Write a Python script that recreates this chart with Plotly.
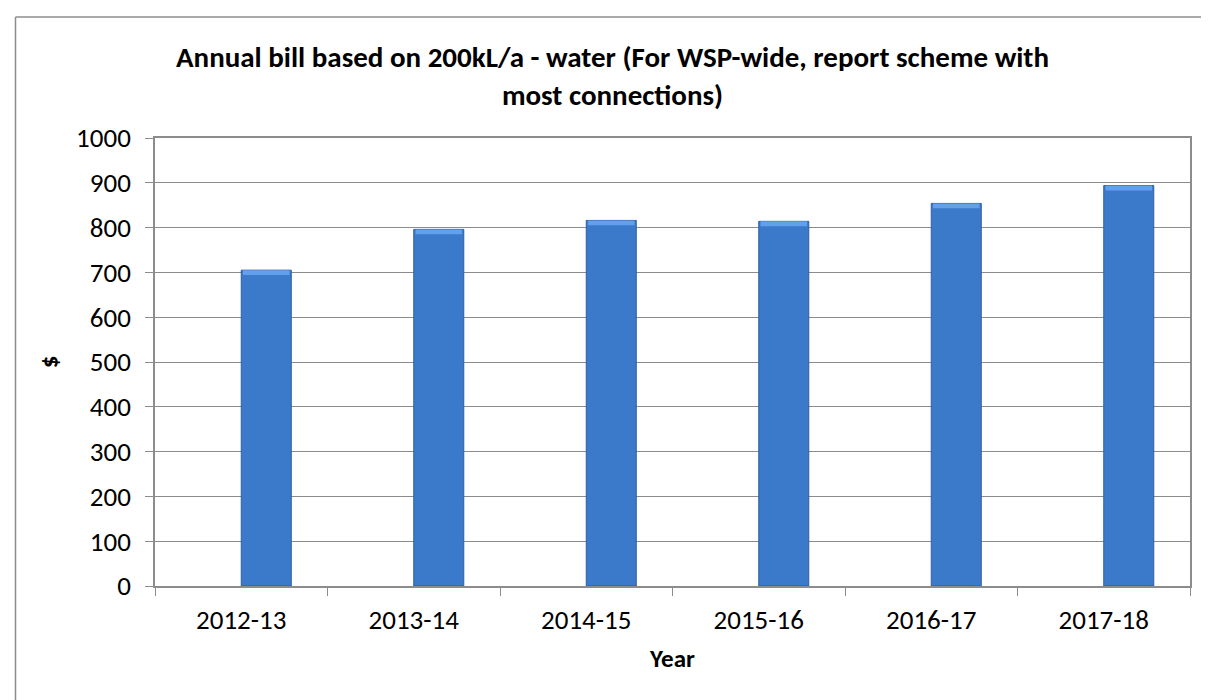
import plotly.graph_objects as go

# values
years = ["2012-13", "2013-14", "2014-15", "2015-16", "2016-17", "2017-18"]
bill = [705, 796, 816, 814, 854, 894]
y_ticks = [0, 100, 200, 300, 400, 500, 600, 700, 800, 900, 1000]

W, H = 1209, 700
ml, mr, mt, mb = 147, 27, 130, 122
pw, ph = W - ml - mr, H - mt - mb

font = "Carlito, Calibri, Lato, sans-serif"
grey = "#8c8c8c"

# light bevel strip on top of each bar (a few px high)
cap = 11
cap_base = [v - cap for v in bill]

fig = go.Figure()
fig.add_trace(go.Bar(
    x=years,
    y=bill,
    width=0.29,
    offset=0,
    marker=dict(color="#3b7acb", line=dict(color="#2d5fa0", width=1)),
    hovertemplate="%{x}: $%{y}<extra></extra>",
))
fig.add_trace(go.Bar(
    x=years,
    y=[cap] * len(bill),
    base=cap_base,
    width=0.27,
    offset=0.01,
    marker=dict(color="#62a0ec", line=dict(width=0)),
    hoverinfo="skip",
))

# outer chart frame (only left and top edges show in the picture)
def px_x(v):
    return (v - ml) / pw

def px_y(v):
    return (H - mb - v) / ph

fig.add_shape(type="line", xref="paper", yref="paper",
              x0=px_x(7.5), x1=px_x(W + 5), y0=px_y(9), y1=px_y(9),
              line=dict(color=grey, width=1.5))
fig.add_shape(type="line", xref="paper", yref="paper",
              x0=px_x(7.5), x1=px_x(7.5), y0=px_y(9), y1=px_y(H + 5),
              line=dict(color=grey, width=1.5))

fig.update_layout(
    width=W, height=H,
    margin=dict(l=ml, r=mr, t=mt, b=mb),
    paper_bgcolor="white", plot_bgcolor="white",
    showlegend=False,
    barmode="overlay",
    font=dict(family=font, size=27, color="black"),
    title=dict(
        text="<b>Annual bill based on 200kL/a - water (For WSP-wide, report scheme with<br>most connections)</b>",
        x=0.5, xanchor="center", y=1 - 59 / H, yanchor="middle",
        font=dict(family=font, size=29),
    ),
    xaxis=dict(
        type="category",
        showline=True, linecolor=grey, linewidth=1.5, mirror=True,
        ticks="outside", tickson="boundaries", ticklen=8, tickcolor=grey,
        ticklabelstandoff=9,
        showgrid=False,
        title=dict(text="<b>Year</b>", font=dict(size=25), standoff=14),
    ),
    yaxis=dict(
        range=[0, 1000], tickvals=y_ticks,
        showline=True, linecolor=grey, linewidth=1.5, mirror=True,
        ticks="outside", ticklen=8, tickcolor=grey,
        ticklabelstandoff=9,
        showgrid=True, gridcolor=grey, gridwidth=1.2,
        zeroline=False,
        title=dict(text="<b>$</b>", font=dict(size=25), standoff=10),
    ),
)

fig.write_html("out.html")
